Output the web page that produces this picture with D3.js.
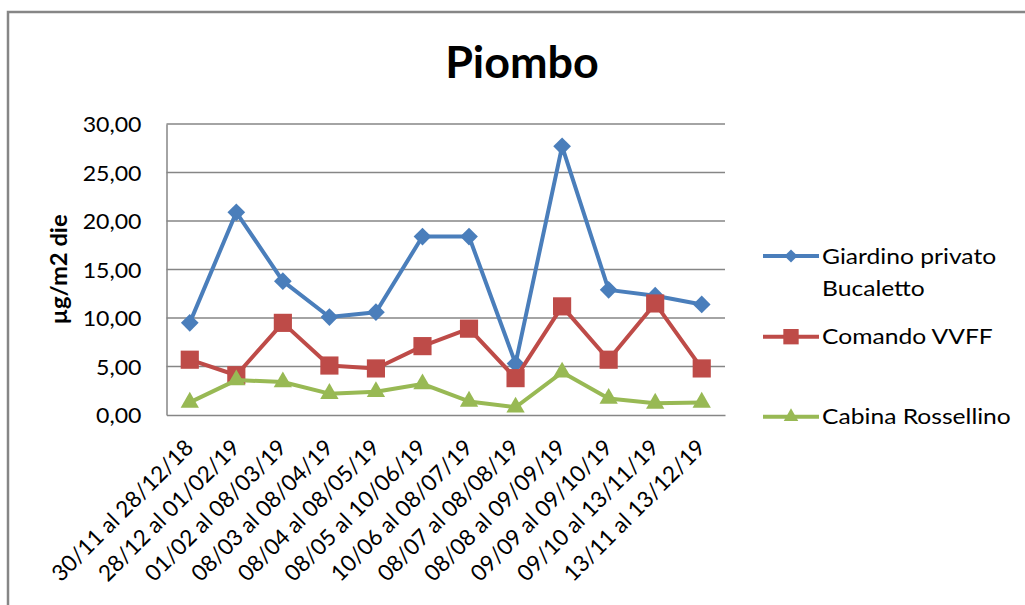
<!DOCTYPE html>
<html>
<head>
<meta charset="utf-8">
<script src="https://cdn.jsdelivr.net/npm/d3@7"></script>
<style>
  html, body { margin: 0; padding: 0; background: #fff; }
  svg text { font-family: Lato, "Open Sans", sans-serif; fill: #000; }
</style>
</head>
<body>
<svg id="chart" width="1025" height="605"></svg>
<script>
// Sampling periods
const categories = [
  "30/11 al 28/12/18", "28/12 al 01/02/19", "01/02 al 08/03/19", "08/03 al 08/04/19",
  "08/04 al 08/05/19", "08/05 al 10/06/19", "10/06 al 08/07/19", "08/07 al 08/08/19",
  "08/08 al 09/09/19", "09/09 al 09/10/19", "09/10 al 13/11/19", "13/11 al 13/12/19"
];
// Lead deposition, µg/m2 die
const giardinoBucaletto = [9.5, 20.9, 13.8, 10.1, 10.6, 18.4, 18.4, 5.3, 27.7, 12.9, 12.3, 11.4];
const comandoVVFF       = [5.7, 4.1, 9.5, 5.1, 4.8, 7.1, 8.9, 3.8, 11.2, 5.7, 11.5, 4.8];
const cabinaRossellino  = [1.3, 3.6, 3.4, 2.2, 2.4, 3.2, 1.4, 0.8, 4.4, 1.7, 1.2, 1.3];
const yTicks = [0, 5, 10, 15, 20, 25, 30];

const seriesList = [
  { name: ["Giardino privato", "Bucaletto"], values: giardinoBucaletto, color: "#4a7ebb", marker: "diamond" },
  { name: ["Comando VVFF"], values: comandoVVFF, color: "#be4b48", marker: "square" },
  { name: ["Cabina Rossellino"], values: cabinaRossellino, color: "#98b954", marker: "triangle" }
];

const svg = d3.select("#chart");
const plot = { left: 166.5, right: 725, top: 124, bottom: 415 };
const stretch = 1.1; // horizontal widening of text glyphs

// Outer chart frame
svg.append("path")
  .attr("d", "M8,610 L8,12 L1030,12")
  .attr("fill", "none").attr("stroke", "#868686").attr("stroke-width", 2.5);

svg.append("text")
  .attr("transform", `translate(522,78) scale(1.02,1)`)
  .attr("text-anchor", "middle")
  .attr("font-size", 44).attr("font-weight", "bold")
  .text("Piombo");

const x = d3.scaleBand().domain(categories).range([plot.left, plot.right]);
const y = d3.scaleLinear().domain([0, 30]).range([plot.bottom, plot.top]);
const fmt = v => d3.format(".2f")(v).replace(".", ",");

// Horizontal gridlines
svg.append("g").selectAll("line").data(yTicks.filter(t => t > 0)).join("line")
  .attr("x1", plot.left).attr("x2", plot.right)
  .attr("y1", d => y(d)).attr("y2", d => y(d))
  .attr("stroke", "#868686").attr("stroke-width", 1.5);

// Y axis
const yAxis = svg.append("g")
  .attr("transform", `translate(${plot.left},0)`)
  .call(d3.axisLeft(y).tickValues(yTicks).tickFormat(fmt).tickSize(0).tickPadding(0));
yAxis.select(".domain").attr("stroke", "#868686").attr("stroke-width", 1.5);
yAxis.selectAll(".tick text")
  .attr("x", null).attr("dy", null)
  .attr("transform", `translate(-25,0) scale(${stretch},1) translate(0,7.5)`)
  .attr("font-size", 21).style("font-family", "Lato, sans-serif");

// X axis
const xAxis = svg.append("g")
  .attr("transform", `translate(0,${plot.bottom})`)
  .call(d3.axisBottom(x).tickSize(0).tickFormat(""));
xAxis.select(".domain").attr("stroke", "#868686").attr("stroke-width", 1.5);

svg.append("g").selectAll("text").data(categories).join("text")
  .attr("transform", d => `translate(${x(d) + x.bandwidth() / 2 + 5},${plot.bottom + 34}) rotate(-45)`)
  .attr("text-anchor", "end")
  .attr("font-size", 22.5)
  .text(d => d);

// Axis title
svg.append("text")
  .attr("transform", `translate(67,${(plot.top + plot.bottom) / 2}) rotate(-90) scale(1.08,1)`)
  .attr("text-anchor", "middle")
  .attr("font-size", 22).attr("font-weight", "bold")
  .text("µg/m2 die");

const symbolFor = {
  diamond: d3.symbol().type(d3.symbolDiamond2).size(200),
  square: d3.symbol().type(d3.symbolSquare2).size(420),
  triangle: d3.symbol().type(d3.symbolTriangle2).size(240)
};
const symbolLegend = {
  diamond: d3.symbol().type(d3.symbolDiamond2).size(110),
  square: d3.symbol().type(d3.symbolSquare2).size(300),
  triangle: d3.symbol().type(d3.symbolTriangle2).size(150)
};

const line = d3.line()
  .x((d, i) => x(categories[i]) + x.bandwidth() / 2)
  .y(d => y(d));

seriesList.forEach(s => {
  const g = svg.append("g");
  g.append("path").datum(s.values)
    .attr("d", line).attr("fill", "none")
    .attr("stroke", s.color).attr("stroke-width", 4).attr("stroke-linejoin", "round");
  g.selectAll("path.m").data(s.values).join("path").attr("class", "m")
    .attr("d", symbolFor[s.marker])
    .attr("transform", (d, i) => `translate(${x(categories[i]) + x.bandwidth() / 2},${y(d)})`)
    .attr("fill", s.color);
});

// Legend
const legendY = [256, 336.7, 416.7];
seriesList.forEach((s, k) => {
  const g = svg.append("g").attr("transform", `translate(0,${legendY[k]})`);
  g.append("line").attr("x1", 763).attr("x2", 819).attr("y1", 0).attr("y2", 0)
    .attr("stroke", s.color).attr("stroke-width", 4);
  g.append("path").attr("d", symbolLegend[s.marker])
    .attr("transform", "translate(791,0)").attr("fill", s.color);
  s.name.forEach((t, j) => {
    g.append("text")
      .attr("transform", `translate(822,${7.5 + j * 32}) scale(1.12,1)`)
      .attr("font-size", 22).text(t);
  });
});
</script>
</body>
</html>
